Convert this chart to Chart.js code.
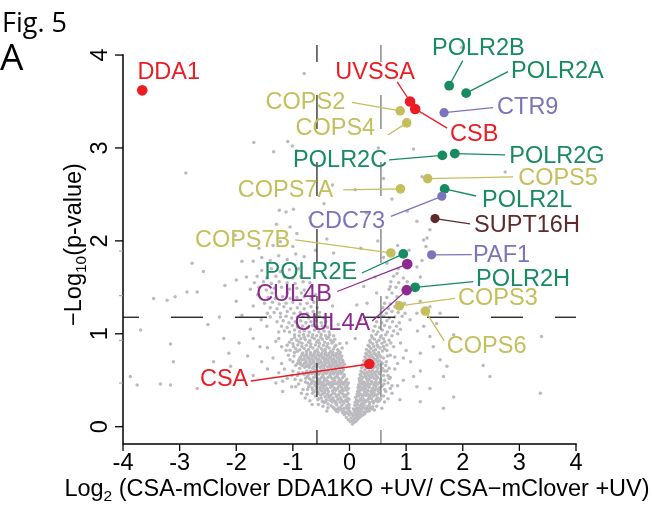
<!DOCTYPE html>
<html>
<head>
<meta charset="utf-8">
<title>Fig. 5A volcano plot</title>
<script src="https://cdn.jsdelivr.net/npm/chart.js@4.4.1/dist/chart.umd.min.js"></script>
<style>
  html, body { margin: 0; padding: 0; background: #ffffff; }
  canvas { display: block; }
</style>
</head>
<body>
<canvas id="volcano" width="652" height="506"></canvas>
<script>
// ---- highlighted proteins ----
const geneNames   = ['DDA1', 'UVSSA', 'CSB', 'CSA',
                     'POLR2B', 'POLR2A', 'POLR2C', 'POLR2G', 'POLR2L', 'POLR2E', 'POLR2H',
                     'COPS2', 'COPS4', 'COPS5', 'COPS7A', 'COPS7B', 'COPS3', 'COPS6',
                     'CTR9', 'CDC73', 'PAF1', 'CUL4B', 'CUL4A', 'SUPT16H'];
const geneLog2FC  = [-3.66, 1.07, 1.16, 0.35,
                     1.76, 2.06, 1.64, 1.86, 1.68, 0.95, 1.16,
                     0.895, 1.01, 1.38, 0.90, 0.73, 0.88, 1.34,
                     1.67, 1.63, 1.45, 1.02, 1.01, 1.51];
const geneNegLogP = [3.62, 3.50, 3.42, 0.675,
                     3.67, 3.59, 2.92, 2.94, 2.56, 1.86, 1.50,
                     3.40, 3.27, 2.67, 2.56, 1.87, 1.30, 1.245,
                     3.38, 2.48, 1.85, 1.75, 1.47, 2.24];
const geneGroup   = ['ner', 'ner', 'ner', 'ner',
                     'pol2', 'pol2', 'pol2', 'pol2', 'pol2', 'pol2', 'pol2',
                     'csn', 'csn', 'csn', 'csn', 'csn', 'csn', 'csn',
                     'paf', 'paf', 'paf', 'cul4', 'cul4', 'fact'];

// ---- all other quantified proteins: [log2 ratio, -log10 p] ----
const otherProteins = [
  // base of the cloud
  [0.05,0.03],[0.08,0.045],[0.015,0.055],[0.115,0.06],[0.06,0.07],[-0.02,0.075],[0.145,0.08],[0.09,0.09],[0.03,0.095],[0.175,0.1],[-0.055,0.1],[0.125,0.11],[0.205,0.115],[0.065,0.12],[-0.005,0.125],[-0.09,0.13],[0.155,0.13],[0.235,0.125],[0.1,0.135],[0.035,0.14],[-0.035,0.145],[0.19,0.14],[0.27,0.14],
  [-0.12,0.15],[-0.205,0.16],[-0.065,0.155],[0.005,0.165],[0.085,0.16],[0.135,0.155],[0.185,0.165],[0.25,0.155],[0.305,0.165],[-0.155,0.18],[-0.255,0.185],[-0.02,0.18],[0.105,0.185],[0.205,0.18],[0.275,0.19],[0.335,0.185],[-0.09,0.2],[-0.185,0.205],[-0.29,0.21],[-0.005,0.205],[0.125,0.205],[0.165,0.2],[0.235,0.21],[0.315,0.215],[0.37,0.205],[-0.05,0.225],[-0.135,0.23],[-0.225,0.235],[0.095,0.23],[0.19,0.225],[0.26,0.235],[0.145,0.24],[0.35,0.235],[-0.325,0.225],[-0.38,0.205],[0.41,0.215],[-0.01,0.24],[0.215,0.245],
  [-0.27,0.195],[-0.21,0.19],[-0.15,0.198],[-0.11,0.172],[-0.04,0.195],[0.07,0.192],[0.145,0.172],[0.22,0.195],[0.29,0.2],[0.35,0.168],[-0.235,0.17],[0.4,0.19],
  [-0.45,0.26],[-0.38,0.245],[-0.305,0.265],[-0.24,0.25],[-0.17,0.262],[-0.1,0.255],[-0.035,0.268],[0.1,0.262],[0.165,0.275],[0.225,0.255],[0.29,0.27],[0.355,0.26],[0.425,0.255],[-0.41,0.29],[-0.345,0.285],[-0.27,0.28],[-0.205,0.295],[-0.14,0.288],[-0.075,0.28],[-0.01,0.295],[0.125,0.29],[0.19,0.3],[0.255,0.292],[0.32,0.288],[0.39,0.3],[0.46,0.282],[-0.5,0.31],[-0.43,0.322],[-0.365,0.318],[-0.29,0.308],[-0.23,0.325],[-0.16,0.312],[-0.095,0.322],[-0.04,0.31],[0.11,0.318],[0.16,0.332],[0.23,0.322],[0.295,0.335],[0.35,0.318],[0.42,0.33],[0.5,0.31],[-0.47,0.352],[-0.39,0.348],[-0.325,0.342],[-0.26,0.355],[-0.19,0.345],[-0.12,0.352],[-0.055,0.342],[0.135,0.352],[0.2,0.348],[0.27,0.36],[0.33,0.35],[0.395,0.358],[0.455,0.345],[-0.6,0.33],[0.55,0.3],[-0.7,0.28],[0.62,0.265],[-0.56,0.29],[0.5,0.27],
  [-0.48,0.275],[-0.42,0.272],[-0.31,0.298],[-0.24,0.27],[-0.17,0.3],[-0.105,0.27],[-0.045,0.29],[0.14,0.275],[0.21,0.285],[0.27,0.268],[0.34,0.3],[0.41,0.272],[0.48,0.3],[-0.55,0.3],[0.53,0.28],
  [-0.56,0.36],[-0.51,0.34],[-0.44,0.365],[-0.35,0.33],[-0.29,0.362],[-0.22,0.338],[-0.155,0.368],[-0.09,0.338],[-0.025,0.358],[0.145,0.335],[0.17,0.368],[0.24,0.338],[0.3,0.37],[0.37,0.338],[0.43,0.372],[0.48,0.338],[0.52,0.36],[-0.65,0.36],
  // ragged edges of the lobes
  [0.6,0.33],[0.64,0.38],[0.61,0.46],[0.7,0.52],[0.64,0.66],[0.6,0.74],[0.67,0.76],[0.62,0.6],[0.72,0.41],[0.68,0.3],[0.57,0.2],[0.48,0.22],[0.44,0.18],
  [-0.78,0.31],[-0.66,0.24],[-0.85,0.36],[-0.74,0.4],[-0.86,0.5],[-0.95,0.43],[-0.83,0.58],[-0.92,0.68],[-0.98,0.76],[-0.55,0.24],[-0.47,0.22],[-0.4,0.17],
  // lower lobes
  [-0.62,0.378],[-0.555,0.37],[-0.49,0.384],[-0.43,0.392],[-0.37,0.376],[-0.3,0.386],[-0.245,0.393],[-0.175,0.38],[-0.11,0.386],[-0.048,0.392],[0.145,0.382],[0.2,0.394],[0.262,0.378],[0.325,0.39],[0.38,0.38],[0.44,0.392],[0.505,0.384],[-0.66,0.42],[-0.585,0.412],[-0.52,0.425],[-0.465,0.418],[-0.4,0.41],[-0.335,0.424],[-0.27,0.416],[-0.21,0.41],[-0.142,0.424],[-0.08,0.418],[-0.02,0.41],[0.152,0.422],[0.222,0.416],[0.285,0.41],[0.348,0.424],[0.412,0.418],[0.47,0.41],[0.532,0.422],[-0.7,0.452],[-0.612,0.448],[-0.55,0.46],[-0.49,0.452],[-0.422,0.446],[-0.362,0.458],[-0.298,0.45],[-0.232,0.462],[-0.17,0.448],[-0.108,0.458],[-0.04,0.45],[0.162,0.452],[0.232,0.46],[0.298,0.448],[0.362,0.458],[0.43,0.45],[0.498,0.46],[-0.64,0.49],[-0.572,0.486],[-0.51,0.48],[-0.448,0.492],[-0.382,0.486],[-0.318,0.478],[-0.258,0.492],[-0.192,0.485],[-0.128,0.478],[-0.068,0.49],[0.178,0.488],[0.248,0.48],[0.318,0.492],[0.388,0.486],[0.458,0.478],[0.548,0.49],[-0.82,0.4],[-0.9,0.46],[-1.02,0.43],[-0.78,0.48],[-1.18,0.38],[0.62,0.4],[0.68,0.47],[0.75,0.36],[0.85,0.44],[-1.3,0.47],[0.95,0.5],[1.13,0.54],[1.19,0.43],[0.89,0.29],[1.25,0.27],[1.42,0.41],[1.66,0.2],[1.84,0.32],[-3.87,0.54],[-3.75,0.45],[-3.34,0.46],[-3.16,0.45],[-2.69,0.41],[3.37,0.36],[-0.75,0.35],[0.58,0.44],
  [-0.72,0.43],[-0.65,0.395],[-0.59,0.435],[-0.52,0.4],[-0.46,0.44],[-0.39,0.398],[-0.32,0.438],[-0.26,0.402],[-0.19,0.436],[-0.13,0.4],[-0.06,0.436],[0.17,0.4],[0.185,0.436],[0.25,0.402],[0.26,0.438],[0.33,0.435],[0.4,0.4],[0.46,0.436],[0.52,0.4],[0.56,0.43],
  [-0.74,0.47],[-0.67,0.468],[-0.6,0.472],[-0.53,0.466],[-0.46,0.474],[-0.39,0.468],[-0.33,0.472],[-0.27,0.466],[-0.2,0.472],[-0.14,0.468],[-0.08,0.474],[-0.02,0.47],[0.2,0.47],[0.27,0.474],[0.33,0.466],[0.4,0.472],[0.47,0.468],[0.52,0.474],
  [-0.772,0.522],[-0.705,0.516],[-0.632,0.53],[-0.568,0.52],[-0.5,0.528],[-0.442,0.518],[-0.378,0.532],[-0.31,0.522],[-0.252,0.53],[-0.188,0.518],[-0.122,0.528],[0.172,0.52],[0.24,0.532],[0.302,0.518],[0.37,0.528],[0.432,0.522],[0.5,0.53],[-0.8,0.562],[-0.728,0.556],[-0.662,0.57],[-0.6,0.558],[-0.538,0.566],[-0.472,0.56],[-0.41,0.572],[-0.345,0.558],[-0.282,0.566],[-0.218,0.56],[-0.152,0.57],[-0.092,0.56],[0.188,0.562],[0.262,0.57],[0.328,0.558],[0.392,0.566],[0.462,0.56],[0.53,0.57],[-0.752,0.6],[-0.685,0.596],[-0.618,0.61],[-0.558,0.598],[-0.492,0.608],[-0.428,0.6],[-0.368,0.61],[-0.302,0.598],[-0.238,0.606],[-0.172,0.6],[-0.108,0.61],[0.202,0.6],[0.272,0.61],[0.342,0.598],[0.408,0.606],[0.478,0.6],[-0.79,0.64],[-0.712,0.636],[-0.648,0.63],[-0.582,0.642],[-0.518,0.636],[-0.452,0.63],[-0.388,0.642],[-0.325,0.636],[-0.262,0.628],[-0.198,0.64],[-0.132,0.636],[0.218,0.638],[0.29,0.63],[0.36,0.642],[0.432,0.636],[0.502,0.628],[-0.92,0.55],[-1.0,0.6],[-0.88,0.63],[-1.1,0.52],[-1.25,0.58],[-1.45,0.62],[0.6,0.55],[0.66,0.6],[0.72,0.53],[0.8,0.62],[0.58,0.63],[1.25,0.6],[1.72,0.65],[1.66,0.54],[2.36,0.66],[2.48,0.54],[-2.1,0.65],[-1.7,0.55],[-0.96,0.51],
  [-0.74,0.54],[-0.67,0.5],[-0.6,0.542],[-0.53,0.505],[-0.47,0.544],[-0.41,0.502],[-0.34,0.542],[-0.28,0.505],[-0.22,0.544],[-0.16,0.5],[-0.1,0.542],[-0.05,0.51],[0.2,0.545],[0.21,0.505],[0.28,0.544],[0.34,0.505],[0.35,0.543],[0.41,0.545],[0.47,0.505],[0.48,0.544],[0.55,0.51],
  [-0.77,0.58],[-0.7,0.578],[-0.64,0.584],[-0.58,0.58],[-0.52,0.586],[-0.45,0.58],[-0.39,0.588],[-0.33,0.58],[-0.26,0.586],[-0.2,0.58],[-0.13,0.588],[0.23,0.584],[0.3,0.58],[0.37,0.588],[0.44,0.58],[0.51,0.585],[0.56,0.6],
  [-0.862,0.672],[-0.8,0.68],[-0.732,0.668],[-0.668,0.682],[-0.6,0.672],[-0.54,0.68],[-0.472,0.668],[-0.412,0.682],[-0.348,0.67],[-0.282,0.68],[-0.218,0.668],[-0.152,0.682],[-0.09,0.672],[0.232,0.67],[0.3,0.682],[0.37,0.668],[0.44,0.68],[0.508,0.67],[0.578,0.68],[-0.9,0.712],[-0.83,0.72],[-0.768,0.708],[-0.702,0.722],[-0.638,0.71],[-0.572,0.72],[-0.508,0.708],[-0.44,0.722],[-0.378,0.712],[-0.312,0.72],[-0.248,0.708],[-0.182,0.722],[-0.118,0.712],[0.252,0.71],[0.322,0.72],[0.392,0.708],[0.462,0.722],[0.532,0.71],[-0.86,0.752],[-0.792,0.76],[-0.722,0.748],[-0.658,0.762],[-0.592,0.75],[-0.528,0.76],[-0.462,0.748],[-0.398,0.762],[-0.332,0.75],[-0.268,0.76],[-0.2,0.748],[-0.138,0.762],[0.272,0.75],[0.342,0.76],[0.412,0.748],[0.482,0.762],[0.558,0.75],[-0.83,0.792],[-0.762,0.788],[-0.692,0.8],[-0.622,0.79],[-0.552,0.8],[-0.488,0.788],[-0.422,0.8],[-0.358,0.79],[-0.292,0.8],[-0.228,0.788],[-0.162,0.8],[0.292,0.79],[0.362,0.8],[0.438,0.788],[0.512,0.8],[-1.0,0.7],[-1.08,0.77],[-1.2,0.68],[-1.35,0.74],[-1.55,0.7],[-3.11,0.7],[0.65,0.7],[0.72,0.77],[0.85,0.68],[0.95,0.74],[1.08,0.7],[-0.97,0.8],[-2.13,0.79],[-1.8,0.76],[1.6,0.72],[-2.4,0.7],
  [-0.83,0.655],[-0.76,0.65],[-0.7,0.66],[-0.63,0.652],[-0.57,0.658],[-0.5,0.65],[-0.44,0.66],[-0.37,0.652],[-0.31,0.66],[-0.25,0.652],[-0.18,0.658],[-0.12,0.652],[0.25,0.655],[0.33,0.65],[0.4,0.66],[0.47,0.652],[0.54,0.658],[-0.87,0.695],[-0.77,0.69],[-0.7,0.7],[-0.64,0.694],[-0.57,0.7],[-0.5,0.69],[-0.44,0.7],[-0.37,0.693],[-0.31,0.7],[-0.25,0.69],[-0.19,0.7],[-0.12,0.694],[0.27,0.695],[0.35,0.7],[0.42,0.69],[0.49,0.7],[0.56,0.695],
  [-0.88,0.735],[-0.8,0.73],[-0.74,0.74],[-0.67,0.732],[-0.61,0.74],[-0.54,0.73],[-0.48,0.74],[-0.41,0.732],[-0.35,0.74],[-0.28,0.73],[-0.22,0.74],[-0.15,0.732],[0.29,0.735],[0.36,0.74],[0.43,0.73],[0.5,0.74],[-0.84,0.775],[-0.76,0.772],[-0.69,0.778],[-0.63,0.772],[-0.56,0.778],[-0.5,0.772],[-0.43,0.778],[-0.37,0.772],[-0.3,0.778],[-0.24,0.772],[-0.18,0.778],[0.31,0.775],[0.39,0.772],[0.46,0.778],[0.53,0.772],
  [-1.15,0.62],[-1.05,0.72],[-1.12,0.82],[-1.25,0.95],[-0.95,0.66],[-1.02,0.55],[-1.18,0.49],[-0.9,0.58],[0.62,0.5],[0.7,0.63],[0.75,0.44],[0.66,0.82],[0.73,0.9],[0.8,0.75],[0.68,0.55],[0.85,1.0],
  // arms
  [-1.05,0.822],[-0.95,0.838],[-0.878,0.828],[-0.8,0.842],[-0.722,0.83],[-0.648,0.848],[-0.57,0.828],[-0.498,0.84],[-0.428,0.83],[-0.36,0.848],[-0.282,0.836],[-0.21,0.828],[-0.13,0.846],[0.3,0.832],[0.378,0.842],[0.458,0.828],[0.54,0.848],[0.62,0.836],[-1.1,0.878],[-1.0,0.892],[-0.912,0.88],[-0.84,0.898],[-0.762,0.878],[-0.682,0.89],[-0.602,0.88],[-0.532,0.898],[-0.458,0.878],[-0.382,0.892],[-0.31,0.9],[-0.24,0.878],[-0.17,0.895],[0.33,0.878],[0.412,0.892],[0.49,0.88],[0.572,0.898],[0.66,0.88],[-1.02,0.938],[-0.93,0.93],[-0.86,0.948],[-0.78,0.938],[-0.7,0.928],[-0.62,0.948],[-0.55,0.93],[-0.48,0.94],[-0.4,0.95],[-0.33,0.93],[-0.26,0.942],[0.36,0.928],[0.44,0.942],[0.52,0.93],[0.6,0.948],[0.7,0.93],[-0.97,0.99],[-0.89,0.978],[-0.81,0.992],[-0.73,0.98],[-0.65,0.99],[-0.58,0.978],[-0.5,0.992],[-0.42,0.98],[-0.35,0.99],[-0.28,0.978],[0.39,0.98],[0.47,0.992],[0.56,0.978],[0.64,0.99],[0.75,0.98],[-1.2,0.86],[-1.3,0.92],[-1.45,0.85],[-1.58,0.86],[-1.7,0.95],[-2.22,0.95],[-3.16,0.89],[0.78,0.86],[0.9,0.9],[1.0,0.82],[1.25,0.79],[1.42,0.97],[1.48,0.86],[1.84,0.99],[-0.05,0.9],[0.1,0.95],[3.39,0.97],[-1.95,0.9],
  [-0.99,0.86],[-0.92,0.812],[-0.84,0.862],[-0.76,0.812],[-0.69,0.864],[-0.61,0.812],[-0.54,0.862],[-0.47,0.814],[-0.4,0.864],[-0.33,0.812],[-0.26,0.862],[-0.19,0.814],[0.34,0.812],[0.35,0.862],[0.42,0.814],[0.43,0.864],[0.5,0.862],[0.58,0.814],[0.6,0.864],
  [-1.06,0.91],[-0.97,0.96],[-0.89,0.912],[-0.8,0.962],[-0.72,0.91],[-0.66,0.962],[-0.58,0.912],[-0.51,0.962],[-0.44,0.91],[-0.37,0.962],[-0.29,0.915],[0.37,0.91],[0.4,0.96],[0.48,0.912],[0.55,0.962],[0.62,0.915],
  [-1.25,1.02],[-1.15,1.03],[-1.06,1.018],[-0.97,1.04],[-0.88,1.022],[-0.8,1.032],[-0.71,1.016],[-0.62,1.04],[-0.54,1.022],[-0.45,1.03],[-0.36,1.018],[0.42,1.03],[0.5,1.02],[0.58,1.04],[0.67,1.02],[0.78,1.03],[0.9,1.05],[-1.2,1.08],[-1.1,1.068],[-1.01,1.09],[-0.92,1.072],[-0.83,1.082],[-0.74,1.066],[-0.65,1.09],[-0.57,1.07],[-0.48,1.084],[-0.39,1.07],[0.45,1.08],[0.53,1.068],[0.62,1.09],[0.71,1.07],[0.83,1.082],[-1.28,1.13],[-1.17,1.14],[-1.07,1.12],[-0.96,1.13],[-0.86,1.14],[-0.77,1.12],[-0.68,1.13],[-0.59,1.14],[-0.5,1.12],[-0.42,1.13],[0.48,1.13],[0.57,1.12],[0.66,1.14],[0.76,1.13],[0.88,1.12],[-1.22,1.18],[-1.12,1.19],[-1.02,1.17],[-0.92,1.18],[-0.82,1.19],[-0.72,1.17],[-0.62,1.18],[-0.53,1.19],[-0.45,1.17],[0.51,1.18],[0.6,1.19],[0.7,1.17],[0.8,1.18],[0.93,1.19],[-1.46,1.08],[-1.56,1.15],[-1.4,1.18],[-3.69,1.04],[-0.2,1.1],[0.2,1.15],[1.07,1.15],[1.31,1.08],[1.54,1.11],[1.2,1.03],[-1.75,1.05],[-2.5,1.1],[-1.9,1.2],[-2.3,1.18],
  [-1.45,1.22],[-1.33,1.23],[-1.22,1.22],[-1.1,1.24],[-0.98,1.22],[-0.87,1.23],[-0.75,1.22],[-0.64,1.24],[-0.53,1.23],[0.56,1.23],[0.65,1.22],[0.75,1.24],[0.86,1.23],[0.98,1.22],[-1.4,1.28],[-1.28,1.27],[-1.16,1.29],[-1.04,1.27],[-0.92,1.28],[-0.8,1.27],[-0.68,1.29],[-0.57,1.28],[0.59,1.28],[0.69,1.27],[0.8,1.29],[0.92,1.28],[-1.5,1.33],[-1.36,1.34],[-1.24,1.32],[-1.12,1.33],[-1.0,1.34],[-0.87,1.32],[-0.75,1.33],[-0.63,1.34],[0.62,1.33],[0.72,1.32],[0.84,1.34],[0.97,1.33],[-1.44,1.39],[-1.31,1.38],[-1.18,1.4],[-1.05,1.38],[-0.93,1.39],[-0.8,1.4],[-0.68,1.38],[0.66,1.39],[0.84,1.4],[0.75,1.44],[-1.62,1.42],[-1.37,1.44],[-1.1,1.44],[-0.85,1.44],[-0.6,1.42],[-2.69,1.45],[-2.87,1.45],[-3.08,1.4],[-3.22,1.36],[-3.46,1.38],[1.25,1.35],[1.42,1.29],[1.6,1.22],[1.19,1.22],[-0.3,1.3],[0.31,1.33],[0.13,1.31],[0.48,1.44],[-1.7,1.3],[-2.0,1.35],
  [-1.75,1.48],[-1.6,1.5],[-1.47,1.47],[-1.33,1.49],[-1.2,1.5],[-1.06,1.48],[-0.93,1.49],[-0.8,1.47],[-0.67,1.5],[0.7,1.48],[0.82,1.5],[0.95,1.47],[-1.68,1.55],[-1.52,1.56],[-1.38,1.54],[-1.24,1.56],[-1.1,1.55],[-0.96,1.54],[-0.82,1.56],[-0.7,1.55],[0.72,1.51],[0.73,1.56],[0.87,1.55],[1.02,1.56],[-1.82,1.61],[-1.63,1.62],[-1.46,1.6],[-1.3,1.62],[-1.15,1.61],[-1.0,1.6],[-0.86,1.62],[0.84,1.65],[0.78,1.62],[0.95,1.6],[1.25,1.61],[-1.55,1.68],[-1.38,1.7],[-1.22,1.67],[-1.06,1.69],[-0.9,1.7],[0.66,1.76],[0.86,1.7],[1.19,1.72],[0.25,1.51],[0.45,1.61],[-2.0,1.58],[-2.2,1.52],[-2.58,1.67],[-0.05,1.76],
  // sparse upper region
  [-2.78,1.76],[-1.9,1.78],[-1.7,1.78],[-1.55,1.82],[-1.4,1.79],[-1.25,1.84],[-1.1,1.8],[-0.95,1.86],[-0.8,1.83],[-1.6,1.92],[-1.35,1.95],[-1.22,1.99],[-1.0,1.94],[-0.93,2.08],[-2.02,2.06],[-0.28,1.87],[1.28,1.79],[1.35,1.94],[1.31,2.01],[0.6,1.82],[0.85,1.95],[1.05,1.9],[0.5,2.0],[-0.6,1.9],[-0.4,2.02],[0.2,1.92],
  [-1.05,2.15],[-1.29,2.18],[-1.24,2.33],[-1.12,2.31],[-0.99,2.34],[1.42,2.12],[1.37,2.03],[1.19,2.21],[1.02,2.32],[-0.7,2.25],[-0.45,2.4],[0.3,2.3],[0.75,2.45],[-2.89,2.73],[1.28,2.69],[0.6,2.67],[2.75,2.74],[-0.3,2.6],[0.1,2.55],
  [-1.69,3.06],[-1.34,2.96],[-1.09,3.07],[-1.01,3.02],[-0.93,2.97],[-0.8,3.8],[0.51,3.0],[1.13,2.99],[1.98,4.08]
];

// ---- axes and thresholds ----
const xTicks = [-4, -3, -2, -1, 0, 1, 2, 3, 4];
const yTicks = [0, 1, 2, 3, 4];
const yMinorMarks = [0.47, 0.93, 1.41, 1.89];
const foldCutoffs = [-0.575, 0.555];
const pCutoff = 1.178;

// ---- styling ----
const FONT = "'Liberation Sans', Arial, Helvetica, sans-serif";
const groupStyle = {
  ner:  { color: '#ED1C24', radius: 5.3 },
  pol2: { color: '#178A60', radius: 4.9 },
  csn:  { color: '#C4BE5C', radius: 4.8 },
  paf:  { color: '#7B74BC', radius: 4.6 },
  cul4: { color: '#8D2A90', radius: 5.3 },
  fact: { color: '#5E2A2C', radius: 4.6 }
};
const greyColor = '#BBBBBF';

// text anchor (tx, ty) and leader-line end (lx, ly), in axis units
const labelPlacement = {
  DDA1:    { tx: -3.746, ty: 3.829, align: 'left' },
  UVSSA:   { tx: -0.252, ty: 3.829, align: 'left',  lx: 0.842,  ly: 3.710 },
  CSB:     { tx: 1.777,  ty: 3.160, align: 'left',  lx: 1.724,  ly: 3.213 },
  CSA:     { tx: -1.788, ty: 0.524, align: 'right', lx: -1.743, ly: 0.492 },
  POLR2B:  { tx: 1.458,  ty: 4.087, align: 'left',  lx: 2.001,  ly: 3.940 },
  POLR2A:  { tx: 2.853,  ty: 3.840, align: 'left',  lx: 2.800,  ly: 3.821 },
  POLR2C:  { tx: 0.665,  ty: 2.882, align: 'right', lx: 0.701,  ly: 2.871 },
  POLR2G:  { tx: 2.821,  ty: 2.925, align: 'left',  lx: 2.747,  ly: 2.925 },
  POLR2L:  { tx: 2.342,  ty: 2.451, align: 'left',  lx: 2.236,  ly: 2.483 },
  POLR2E:  { tx: 0.136,  ty: 1.676, align: 'right', lx: 0.219,  ly: 1.654 },
  POLR2H:  { tx: 2.235,  ty: 1.606, align: 'left',  lx: 2.188,  ly: 1.561 },
  COPS2:   { tx: -0.076, ty: 3.507, align: 'right', lx: 0.042,  ly: 3.490 },
  COPS4:   { tx: 0.453,  ty: 3.231, align: 'right', lx: 0.678,  ly: 3.140 },
  COPS5:   { tx: 2.979,  ty: 2.688, align: 'left',  lx: 2.889,  ly: 2.688 },
  COPS7A:  { tx: -0.288, ty: 2.559, align: 'right', lx: -0.111, ly: 2.548 },
  COPS7B:  { tx: -1.046, ty: 2.020, align: 'right', lx: -0.958, ly: 2.010 },
  COPS3:   { tx: 1.918,  ty: 1.396, align: 'left',  lx: 1.865,  ly: 1.382 },
  COPS6:   { tx: 1.719,  ty: 0.879, align: 'left',  lx: 1.671,  ly: 0.926 },
  CTR9:    { tx: 2.606,  ty: 3.452, align: 'left',  lx: 2.536,  ly: 3.434 },
  CDC73:   { tx: 0.628,  ty: 2.225, align: 'right', lx: 0.731,  ly: 2.263 },
  PAF1:    { tx: 2.182,  ty: 1.866, align: 'left',  lx: 2.160,  ly: 1.851 },
  CUL4B:   { tx: -0.311, ty: 1.439, align: 'right', lx: -0.217, ly: 1.455 },
  CUL4A:   { tx: 0.365,  ty: 1.127, align: 'right', lx: 0.401,  ly: 1.138 },
  SUPT16H: { tx: 2.200,  ty: 2.182, align: 'left',  lx: 2.130,  ly: 2.182 }
};

const highlightData = geneNames.map((g, i) => ({ x: geneLog2FC[i], y: geneNegLogP[i] }));
const otherData = otherProteins.map(p => ({ x: p[0], y: p[1] }));

function drawSubscripted(ctx, parts, x, y, align) {
  // parts: [text, size, dy]
  let total = 0;
  parts.forEach(p => { ctx.font = p[1] + 'px ' + FONT; total += ctx.measureText(p[0]).width; });
  let cx = align === 'center' ? x - total / 2 : x;
  ctx.textAlign = 'left';
  parts.forEach(p => {
    ctx.font = p[1] + 'px ' + FONT;
    ctx.fillText(p[0], cx, y + p[2]);
    cx += ctx.measureText(p[0]).width;
  });
}

const volcanoDecor = {
  id: 'volcanoDecor',
  afterDatasetDraw(chart, args) {
    if (args.index !== 1) return; // after the grey cloud, before highlighted points
    const { ctx, chartArea: a, scales: { x, y } } = chart;
    ctx.save();
    ctx.beginPath();
    ctx.rect(a.left, a.top, a.right - a.left, a.bottom - a.top);
    ctx.clip();
    // significance thresholds
    ctx.lineWidth = 1.3;
    ctx.strokeStyle = '#1a1a1a';
    ctx.setLineDash([32, 32]);
    ctx.lineDashOffset = 16;
    const yp = y.getPixelForValue(pCutoff);
    ctx.beginPath(); ctx.moveTo(a.left, yp); ctx.lineTo(a.right, yp); ctx.stroke();
    ctx.setLineDash([34, 33]);
    ctx.lineDashOffset = 20;
    foldCutoffs.forEach((v, i) => {
      const xp = x.getPixelForValue(v);
      ctx.strokeStyle = i === 0 ? '#2a2a2a' : '#7a7a7a';
      ctx.beginPath(); ctx.moveTo(xp, a.bottom); ctx.lineTo(xp, a.top); ctx.stroke();
    });
    ctx.restore();
    // leader lines
    ctx.save();
    ctx.lineWidth = 1.3;
    geneNames.forEach((g, i) => {
      const lp = labelPlacement[g];
      if (!lp || lp.lx === undefined) return;
      ctx.strokeStyle = groupStyle[geneGroup[i]].color;
      ctx.beginPath();
      ctx.moveTo(x.getPixelForValue(geneLog2FC[i]), y.getPixelForValue(geneNegLogP[i]));
      ctx.lineTo(x.getPixelForValue(lp.lx), y.getPixelForValue(lp.ly));
      ctx.stroke();
    });
    ctx.restore();
  },
  afterDatasetsDraw(chart) {
    const { ctx, scales: { x, y } } = chart;
    ctx.save();
    ctx.font = '23.5px ' + FONT;
    ctx.textBaseline = 'alphabetic';
    geneNames.forEach((g, i) => {
      const lp = labelPlacement[g];
      ctx.fillStyle = groupStyle[geneGroup[i]].color;
      ctx.textAlign = lp.align;
      ctx.fillText(g, x.getPixelForValue(lp.tx), y.getPixelForValue(lp.ty) + 8.4);
    });
    ctx.restore();
  },
  afterDraw(chart) {
    const { ctx, chartArea: a, scales: { x, y } } = chart;
    const x0 = x.getPixelForValue(xTicks[0]);
    const x1 = x.getPixelForValue(xTicks[xTicks.length - 1]);
    const yTop = y.getPixelForValue(yTicks[yTicks.length - 1]);
    ctx.save();
    ctx.strokeStyle = '#000';
    ctx.lineWidth = 1.5;
    ctx.lineCap = 'square';
    // L-shaped axis
    ctx.beginPath();
    ctx.moveTo(x0, yTop); ctx.lineTo(x0, a.bottom); ctx.lineTo(x1, a.bottom);
    ctx.stroke();
    ctx.lineCap = 'butt';
    ctx.lineWidth = 1.3;
    xTicks.forEach(v => {
      const p = x.getPixelForValue(v);
      ctx.beginPath(); ctx.moveTo(p, a.bottom); ctx.lineTo(p, a.bottom + 7); ctx.stroke();
    });
    yTicks.forEach(v => {
      const p = y.getPixelForValue(v);
      ctx.beginPath(); ctx.moveTo(x0 - 8, p); ctx.lineTo(x0, p); ctx.stroke();
    });
    ctx.strokeStyle = '#9a9a9a';
    ctx.lineWidth = 1;
    yMinorMarks.forEach(v => {
      const p = y.getPixelForValue(v);
      ctx.beginPath(); ctx.moveTo(x0 - 4, p); ctx.lineTo(x0, p); ctx.stroke();
    });
    // tick labels
    ctx.fillStyle = '#000';
    ctx.font = '23.5px ' + FONT;
    ctx.textAlign = 'center';
    ctx.textBaseline = 'alphabetic';
    xTicks.forEach(v => ctx.fillText(String(v), x.getPixelForValue(v), a.bottom + 26));
    yTicks.forEach(v => {
      ctx.save();
      ctx.translate(x0 - 16.5, y.getPixelForValue(v));
      ctx.rotate(-Math.PI / 2);
      ctx.fillText(String(v), 0, 0);
      ctx.restore();
    });
    // axis titles
    drawSubscripted(ctx, [['Log', 23.5, 0], ['2', 15.5, 5],
      [' (CSA-mClover DDA1KO +UV/ CSA\u2212mClover +UV)', 23.5, 0]], 357, a.bottom + 52, 'center');
    ctx.save();
    ctx.translate(80.5, (a.top + a.bottom) / 2);
    ctx.rotate(-Math.PI / 2);
    drawSubscripted(ctx, [['\u2212Log', 23.5, 0], ['10', 15.5, 5], ['(p-value)', 23.5, 0]], 0, 0, 'center');
    ctx.restore();
    // panel headings
    ctx.textAlign = 'left';
    ctx.font = "27px 'Open Sans', " + FONT;
    ctx.fillText('Fig. 5', 2, 32);
    ctx.font = "37px 'Open Sans', " + FONT;
    ctx.fillText('A', 0, 70);
    ctx.restore();
  }
};

new Chart(document.getElementById('volcano'), {
  type: 'scatter',
  data: {
    datasets: [
      {
        label: 'Highlighted',
        data: highlightData,
        pointRadius: geneGroup.map(g => groupStyle[g].radius),
        pointBackgroundColor: geneGroup.map(g => groupStyle[g].color),
        pointBorderWidth: 0
      },
      {
        label: 'Other proteins',
        data: otherData,
        pointRadius: 1.75,
        pointBackgroundColor: greyColor,
        pointBorderWidth: 0
      }
    ]
  },
  options: {
    responsive: false,
    animation: false,
    events: [],
    devicePixelRatio: 1,
    layout: { padding: { left: 123, right: 76, top: 45, bottom: 62 } },
    scales: {
      x: { type: 'linear', min: -4, max: 4, display: false },
      y: { type: 'linear', min: -0.186, max: 4.108, display: false }
    },
    plugins: { legend: { display: false }, tooltip: { enabled: false } }
  },
  plugins: [volcanoDecor]
});
</script>
</body>
</html>
